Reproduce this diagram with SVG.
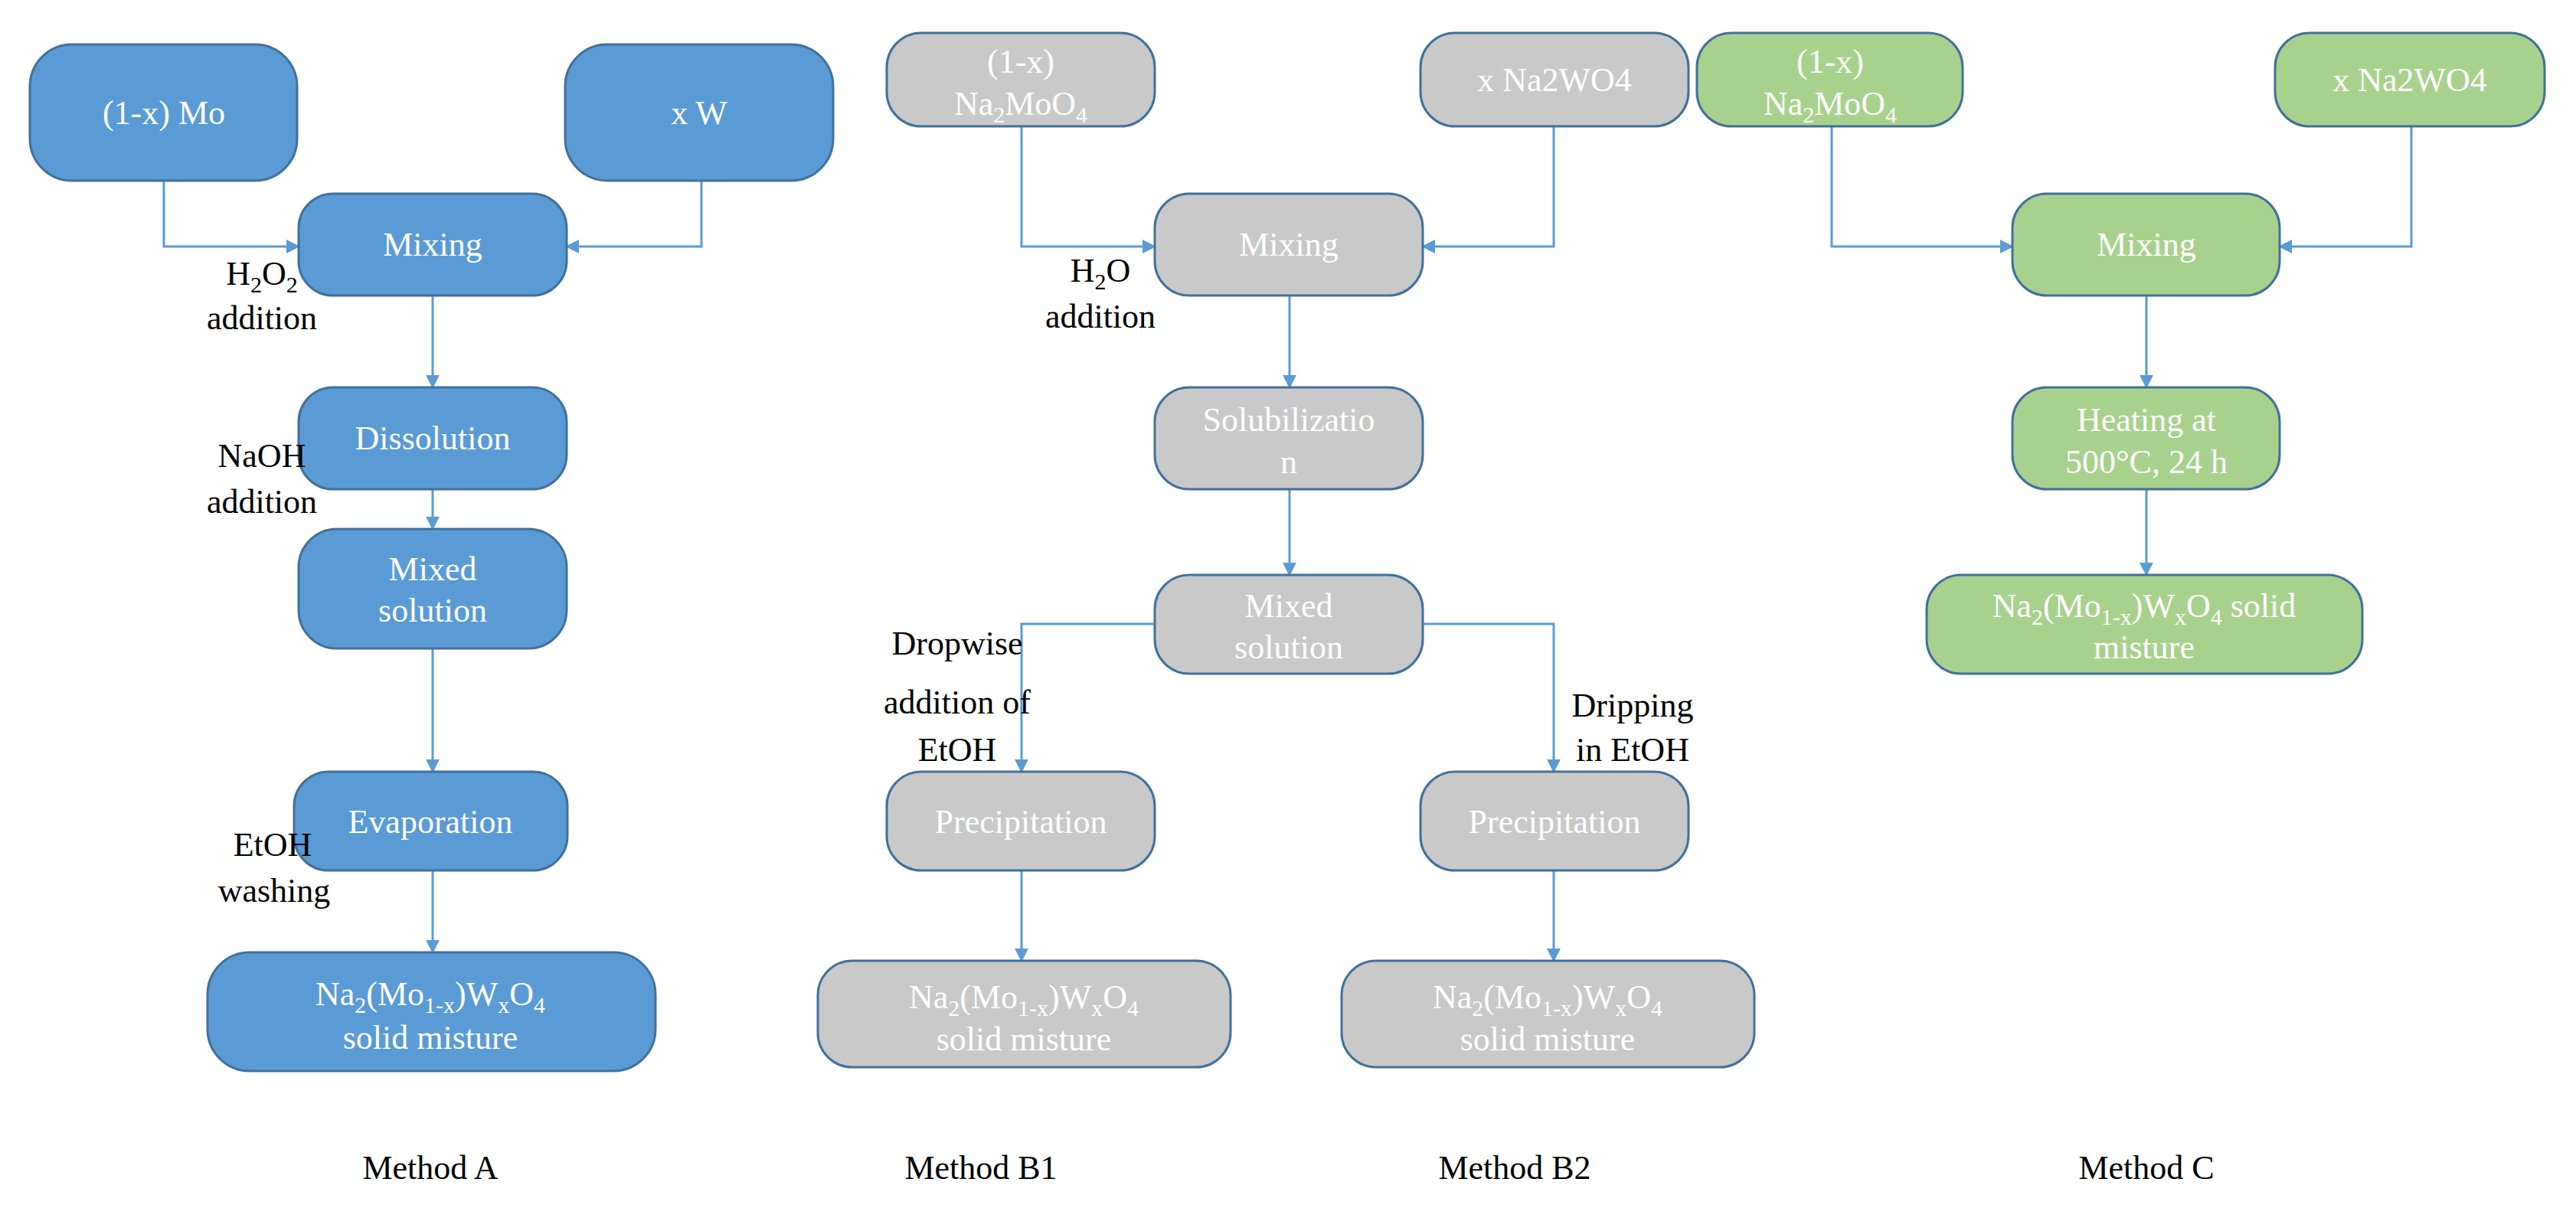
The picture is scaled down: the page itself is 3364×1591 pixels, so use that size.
<svg xmlns="http://www.w3.org/2000/svg" width="3364" height="1591" viewBox="0 0 3364 1591">
<defs>
<style>
.a rect{fill:#5b9bd5;stroke:#41719c;stroke-width:3}
.b rect{fill:#c9c9c9;stroke:#41719c;stroke-width:3}
.c rect{fill:#a9d18e;stroke:#41719c;stroke-width:3}
text{font-family:"Liberation Serif","Times New Roman",serif;font-size:44px;text-anchor:middle}
.n text{fill:#fff}
.l{fill:#000}
.s{font-size:30px}
#conn path{fill:none;stroke:#5b9bd5;stroke-width:3;marker-end:url(#ar)}
</style>
<marker id="ar" viewBox="0 0 10 10" refX="9" refY="5" markerWidth="6" markerHeight="6" orient="auto" markerUnits="strokeWidth"><path d="M0,0L10,5L0,10z" fill="#5b9bd5"/></marker>
</defs>
<rect width="3364" height="1591" fill="#fff"/>
<g id="conn">
<path d="M214,236V322H390"/><path d="M916,236V322H740"/>
<path d="M565,386V506"/><path d="M565,639V691"/><path d="M565,847V1008"/><path d="M565,1137V1244"/>
<path d="M1334,165V322H1508"/><path d="M2029,165V322H1858"/>
<path d="M1684,386V506"/><path d="M1684,639V751"/>
<path d="M1508,815H1334V1008"/><path d="M1858,815H2029V1008"/>
<path d="M1334,1137V1255"/><path d="M2029,1137V1255"/>
<path d="M2392,165V322H2628"/><path d="M3149,165V322H2977"/>
<path d="M2803,386V506"/><path d="M2803,639V751"/>
</g>
<g id="A1" class="n a"><rect x="39" y="58" width="349" height="178" rx="55"/><text x="214" y="162">(1-x) Mo</text></g>
<g id="A2" class="n a"><rect x="738" y="58" width="350" height="178" rx="55"/><text x="913" y="162">x W</text></g>
<g id="A3" class="n a"><rect x="390" y="253" width="350" height="133" rx="45"/><text x="565" y="334">Mixing</text></g>
<g id="A4" class="n a"><rect x="390" y="506" width="350" height="133" rx="45"/><text x="565" y="587">Dissolution</text></g>
<g id="A5" class="n a"><rect x="390" y="691" width="350" height="156" rx="50"/><text x="565" y="758">Mixed</text><text x="565" y="812">solution</text></g>
<g id="A6" class="n a"><rect x="384" y="1008" width="357" height="129" rx="45"/><text x="562" y="1088">Evaporation</text></g>
<g id="A7" class="n a"><rect x="271" y="1244" width="585" height="155" rx="55"/><text x="562" y="1313">Na<tspan class="s" dy="10">2</tspan><tspan dy="-10">(Mo</tspan><tspan class="s" dy="10">1-x</tspan><tspan dy="-10">)W</tspan><tspan class="s" dy="10">x</tspan><tspan dy="-10">O</tspan><tspan class="s" dy="10">4</tspan></text><text x="562" y="1370">solid misture</text></g>
<text class="l" x="342" y="372">H<tspan class="s" dy="10">2</tspan><tspan dy="-10">O</tspan><tspan class="s" dy="10">2</tspan></text>
<text class="l" x="342" y="430">addition</text>
<text class="l" x="342" y="610">NaOH</text><text class="l" x="342" y="670">addition</text>
<text class="l" x="356" y="1118">EtOH</text><text class="l" x="358" y="1178">washing</text>
<text class="l" x="562" y="1540">Method A</text>
<g id="B1" class="n b"><rect x="1158" y="43" width="350" height="122" rx="45"/><text x="1333" y="95">(1-x)</text><text x="1333" y="150">Na<tspan class="s" dy="10">2</tspan><tspan dy="-10">MoO</tspan><tspan class="s" dy="10">4</tspan></text></g>
<g id="B2" class="n b"><rect x="1855" y="43" width="350" height="122" rx="45"/><text x="2030" y="119">x Na2WO4</text></g>
<g id="B3" class="n b"><rect x="1508" y="253" width="350" height="133" rx="45"/><text x="1683" y="334">Mixing</text></g>
<g id="B4" class="n b"><rect x="1508" y="506" width="350" height="133" rx="45"/><text x="1683" y="563">Solubilizatio</text><text x="1683" y="618">n</text></g>
<g id="B5" class="n b"><rect x="1508" y="751" width="350" height="129" rx="45"/><text x="1683" y="806">Mixed</text><text x="1683" y="860">solution</text></g>
<g id="B6" class="n b"><rect x="1158" y="1008" width="350" height="129" rx="45"/><text x="1333" y="1088">Precipitation</text></g>
<g id="B7" class="n b"><rect x="1855" y="1008" width="350" height="129" rx="45"/><text x="2030" y="1088">Precipitation</text></g>
<g id="B8" class="n b"><rect x="1068" y="1255" width="539" height="139" rx="45"/><text x="1337" y="1317">Na<tspan class="s" dy="10">2</tspan><tspan dy="-10">(Mo</tspan><tspan class="s" dy="10">1-x</tspan><tspan dy="-10">)W</tspan><tspan class="s" dy="10">x</tspan><tspan dy="-10">O</tspan><tspan class="s" dy="10">4</tspan></text><text x="1337" y="1372">solid misture</text></g>
<g id="B9" class="n b"><rect x="1752" y="1255" width="539" height="139" rx="45"/><text x="2021" y="1317">Na<tspan class="s" dy="10">2</tspan><tspan dy="-10">(Mo</tspan><tspan class="s" dy="10">1-x</tspan><tspan dy="-10">)W</tspan><tspan class="s" dy="10">x</tspan><tspan dy="-10">O</tspan><tspan class="s" dy="10">4</tspan></text><text x="2021" y="1372">solid misture</text></g>
<text class="l" x="1437" y="368">H<tspan class="s" dy="10">2</tspan><tspan dy="-10">O</tspan></text>
<text class="l" x="1437" y="428">addition</text>
<text class="l" x="1250" y="855">Dropwise</text><text class="l" x="1250" y="932">addition of</text><text class="l" x="1250" y="994">EtOH</text>
<text class="l" x="2132" y="936">Dripping</text><text class="l" x="2132" y="994">in EtOH</text>
<text class="l" x="1281" y="1540">Method B1</text><text class="l" x="1978" y="1540">Method B2</text>
<g id="C1" class="n c"><rect x="2216" y="43" width="347" height="122" rx="45"/><text x="2390" y="95">(1-x)</text><text x="2390" y="150">Na<tspan class="s" dy="10">2</tspan><tspan dy="-10">MoO</tspan><tspan class="s" dy="10">4</tspan></text></g>
<g id="C2" class="n c"><rect x="2971" y="43" width="352" height="122" rx="45"/><text x="3147" y="119">x Na2WO4</text></g>
<g id="C3" class="n c"><rect x="2628" y="253" width="349" height="133" rx="45"/><text x="2803" y="334">Mixing</text></g>
<g id="C4" class="n c"><rect x="2628" y="506" width="349" height="133" rx="45"/><text x="2803" y="563">Heating at</text><text x="2803" y="618">500°C, 24 h</text></g>
<g id="C5" class="n c"><rect x="2516" y="751" width="569" height="129" rx="45"/><text x="2800" y="806">Na<tspan class="s" dy="10">2</tspan><tspan dy="-10">(Mo</tspan><tspan class="s" dy="10">1-x</tspan><tspan dy="-10">)W</tspan><tspan class="s" dy="10">x</tspan><tspan dy="-10">O</tspan><tspan class="s" dy="10">4</tspan><tspan dy="-10">  solid</tspan></text><text x="2800" y="860">misture</text></g>
<text class="l" x="2803" y="1540">Method C</text>
</svg>
